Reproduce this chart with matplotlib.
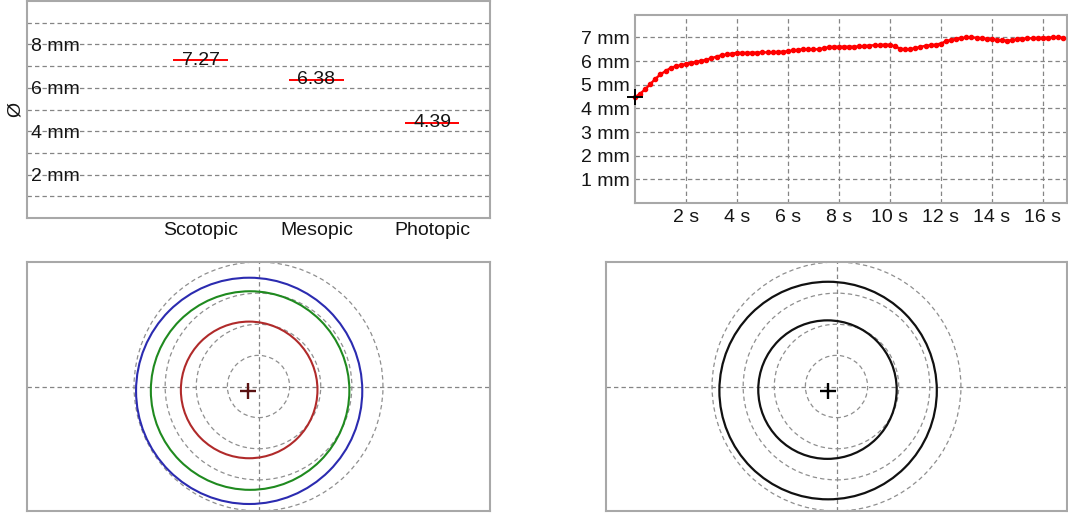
import numpy as np
import matplotlib
matplotlib.use("Agg")
import matplotlib.pyplot as plt
from matplotlib.patches import Circle

plt.rcParams['font.family'] = ['Liberation Sans', 'DejaVu Sans']

# ---------------- data ----------------
categories = ["Scotopic", "Mesopic", "Photopic"]
diameters = [7.27, 6.38, 4.39]
value_labels = ["7.27", "6.38", "4.39"]
tl_yticks = [2, 4, 6, 8]
tl_yticklabels = ["2 mm", "4 mm", "6 mm", "8 mm"]

dyn_interval = 0.2  # seconds between samples
dyn_values = [
    4.47, 4.62, 4.81, 5.03, 5.25, 5.44, 5.58, 5.71, 5.78, 5.83,
    5.88, 5.93, 5.97, 6.01, 6.06, 6.12, 6.19, 6.25, 6.28, 6.32,
    6.35, 6.35, 6.35, 6.36, 6.36, 6.37, 6.37, 6.38, 6.39, 6.40,
    6.42, 6.45, 6.48, 6.50, 6.50, 6.50, 6.50, 6.54, 6.59, 6.61,
    6.61, 6.61, 6.61, 6.61, 6.62, 6.64, 6.66, 6.67, 6.68, 6.70,
    6.69, 6.62, 6.53, 6.50, 6.51, 6.55, 6.60, 6.65, 6.67, 6.70,
    6.74, 6.84, 6.90, 6.94, 6.97, 7.00, 7.00, 6.99, 6.97, 6.94,
    6.92, 6.90, 6.88, 6.87, 6.88, 6.93, 6.95, 6.96, 6.97, 6.98,
    6.99, 6.99, 7.00, 7.00, 6.99,
]
tr_xticks = [2, 4, 6, 8, 10, 12, 14, 16]
tr_xticklabels = ["2 s", "4 s", "6 s", "8 s", "10 s", "12 s", "14 s", "16 s"]
tr_yticks = [1, 2, 3, 4, 5, 6, 7]
tr_yticklabels = ["1 mm", "2 mm", "3 mm", "4 mm", "5 mm", "6 mm", "7 mm"]

ref_radii = [1, 2, 3, 4]
# static pupils: centre offsets (mm)
static_cx = [-0.30, -0.27, -0.30]
static_cy = [-0.14, -0.13, -0.11]
static_colors = ["#2b2bb0", "#1f8a1f", "#b02a2a"]
static_marker = (-0.33, -0.13)
# dynamic pupils: max and min
dyn_diams = [6.99, 4.45]
dyn_cx = [-0.27, -0.29]
dyn_cy = [-0.13, -0.10]
dyn_marker = (-0.28, -0.13)

# ---------------- styling helpers ----------------
W, H = 1068, 515
fig = plt.figure(figsize=(W / 100, H / 100), dpi=100)

def px_axes(l, t, r, b):
    return fig.add_axes([l / W, 1 - b / H, (r - l) / W, (b - t) / H])

SPINE = "#a8a8a8"
GRID = "#858585"
DASH = (0, (3.5, 2.5))
FS = 14
TXT = "#151515"

def style_spines(ax):
    for s in ax.spines.values():
        s.set_color(SPINE)
        s.set_linewidth(1.5)

# ---------------- top left ----------------
ax1 = px_axes(27, 1, 490, 218)
style_spines(ax1)
ax1.set_xlim(-0.5, 3.5)
ax1.set_ylim(0, 10)
for yv in range(1, 10):
    ax1.axhline(yv, color=GRID, lw=0.9, ls=DASH, zorder=1)
xpos = [1, 2, 3]
for x, d, lab in zip(xpos, diameters, value_labels):
    ax1.hlines(d, x - 0.235, x + 0.235, color="red", lw=1.4, zorder=3)
    ax1.text(x, d, lab, ha="center", va="center", fontsize=FS, color=TXT, zorder=4)
ax1.set_xticks(xpos)
ax1.set_xticklabels(categories, fontsize=FS, color=TXT)
ax1.set_yticks(tl_yticks)
ax1.set_yticklabels(tl_yticklabels, fontsize=FS, ha="left", color=TXT)
ax1.tick_params(axis="y", length=0, pad=-3)
ax1.tick_params(axis="x", length=0, pad=3)
ax1.set_ylabel("Ø", fontsize=FS, labelpad=2, color=TXT)

# ---------------- top right ----------------
ax2 = px_axes(635, 15, 1067, 203)
style_spines(ax2)
t = np.arange(len(dyn_values)) * dyn_interval
ax2.set_xlim(0, 16.95)
ax2.set_ylim(0, 7.95)
ax2.set_xticks(tr_xticks)
ax2.set_xticklabels(tr_xticklabels, fontsize=FS, color=TXT)
ax2.set_yticks(tr_yticks)
ax2.set_yticklabels(tr_yticklabels, fontsize=FS, color=TXT)
ax2.tick_params(length=0, pad=4)
ax2.grid(True, color=GRID, lw=0.9, ls=DASH, zorder=1)
ax2.set_axisbelow(True)
ax2.plot(t, dyn_values, color="red", lw=1.7, marker="o", ms=3.0, zorder=3, clip_on=False)
ax2.plot([t[0]], [dyn_values[0]], marker="+", color="black", ms=12, mew=1.4, zorder=5, clip_on=False)

# ---------------- bottom helpers ----------------
def pupil_axes(ax, half_w):
    style_spines(ax)
    ax.set_xlim(-half_w, half_w)
    ax.set_ylim(-4.0, 4.0)
    ax.set_xticks([])
    ax.set_yticks([])
    ax.axhline(0, color=GRID, lw=0.9, ls=DASH, zorder=1)
    ax.axvline(0, color=GRID, lw=0.9, ls=DASH, zorder=1)
    for r in ref_radii:
        ax.add_patch(Circle((0, 0), r, fill=False, ec="#8f8f8f", lw=0.9, ls=DASH, zorder=1))

# ---------------- bottom left ----------------
ax3 = px_axes(27, 262, 490, 511)
pupil_axes(ax3, 7.44)
for d, cx, cy, c in zip(diameters, static_cx, static_cy, static_colors):
    ax3.add_patch(Circle((cx, cy), d / 2, fill=False, ec=c, lw=1.5, zorder=3))
ax3.plot([static_marker[0]], [static_marker[1]], marker="+", color="#5a1212", ms=12, mew=1.7, zorder=5)

# ---------------- bottom right ----------------
ax4 = px_axes(606, 262, 1067, 511)
pupil_axes(ax4, 7.41)
for d, cx, cy in zip(dyn_diams, dyn_cx, dyn_cy):
    ax4.add_patch(Circle((cx, cy), d / 2, fill=False, ec="#111111", lw=1.6, zorder=3))
ax4.plot([dyn_marker[0]], [dyn_marker[1]], marker="+", color="black", ms=12, mew=1.7, zorder=5)

fig.savefig("out.png", dpi=100)
